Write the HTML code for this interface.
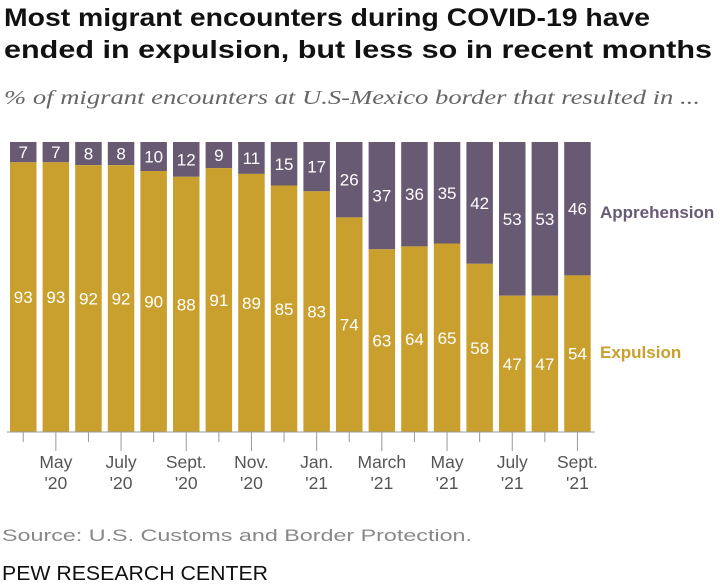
<!DOCTYPE html>
<html><head><meta charset="utf-8"><style>
body{margin:0;background:#fff;width:720px;height:586px;overflow:hidden;font-family:"Liberation Sans",sans-serif}
svg{position:absolute;left:0;top:0}
</style></head><body>
<svg width="720" height="586">
<text x="4" y="26" font-size="25" font-weight="bold" fill="#111" textLength="646" lengthAdjust="spacingAndGlyphs">Most migrant encounters during COVID-19 have</text>
<text x="4" y="58" font-size="25" font-weight="bold" fill="#111" textLength="708" lengthAdjust="spacingAndGlyphs">ended in expulsion, but less so in recent months</text>
<text x="4" y="104" font-size="20" font-style="italic" fill="#666" font-family="Liberation Serif,serif" textLength="696" lengthAdjust="spacingAndGlyphs">% of migrant encounters at U.S-Mexico border that resulted in ...</text>
<g id="bars"></g>
<g id="axis"></g>
<text x="600" y="218" font-size="17" font-weight="bold" fill="#685A73">Apprehension</text>
<text x="600" y="358" font-size="17" font-weight="bold" fill="#C9A02E">Expulsion</text>
<text x="2" y="541" font-size="17" fill="#888" textLength="470" lengthAdjust="spacingAndGlyphs">Source: U.S. Customs and Border Protection.</text>
<text x="2" y="580" font-size="20" fill="#111" textLength="266" lengthAdjust="spacingAndGlyphs">PEW RESEARCH CENTER</text>
</svg>
<script>
const expulsion=[93,93,92,92,90,88,91,89,85,83,74,63,64,65,58,47,47,54];
const apprehension=[7,7,8,8,10,12,9,11,15,17,26,37,36,35,42,53,53,46];
const tickMonths=["","May","","July","","Sept.","","Nov.","","Jan.","","March","","May","","July","","Sept."];
const tickYears=["","'20","","'20","","'20","","'20","","'21","","'21","","'21","","'21","","'21"];
const NS="http://www.w3.org/2000/svg";
const top0=142,base=432,x0=10,step=32.6,bw=26.5;
const y=v=>top0+(100-v)/100*(base-top0);
const bx=i=>x0+i*step;
function mk(t,a,p){const e=document.createElementNS(NS,t);for(const k in a)e.setAttribute(k,a[k]);p.appendChild(e);return e;}
const g=document.getElementById('bars'),ax=document.getElementById('axis');
expulsion.forEach((v,i)=>{
 const r1=mk('rect',{x:bx(i),y:top0,width:bw,height:y(v)-top0,fill:'#685A73'},g);
 
 
 const r2=mk('rect',{x:bx(i),y:y(v),width:bw,height:base-y(v),fill:'#C9A02E'},g);
 
 
 const t1=mk('text',{x:bx(i)+bw/2,y:top0+(y(v)-top0)/2+6,'text-anchor':'middle','font-size':17,fill:'#fff'},g);
 t1.textContent=apprehension[i];
 
 
 const t2=mk('text',{x:bx(i)+bw/2,y:y(v)+(base-y(v))/2+6,'text-anchor':'middle','font-size':17,fill:'#fff'},g);
 t2.textContent=v;
 
 
 const long=tickMonths[i]!=="";
 const tk=mk('line',{x1:bx(i)+bw/2,x2:bx(i)+bw/2,y1:base,y2:long?451:442,stroke:'#999','stroke-width':1},ax);
 
 
 if(long){
  const m=mk('text',{x:bx(i)+bw/2,y:468,'text-anchor':'middle','font-size':17.5,fill:'#555'},ax);m.textContent=tickMonths[i];
  
  
  const yy=mk('text',{x:bx(i)+bw/2,y:489,'text-anchor':'middle','font-size':17.5,fill:'#555'},ax);yy.textContent=tickYears[i];
  
  
 }
});
const al=mk('line',{x1:7,x2:595,y1:base,y2:base,stroke:'#999','stroke-width':1},ax);


</script>
</body></html>
